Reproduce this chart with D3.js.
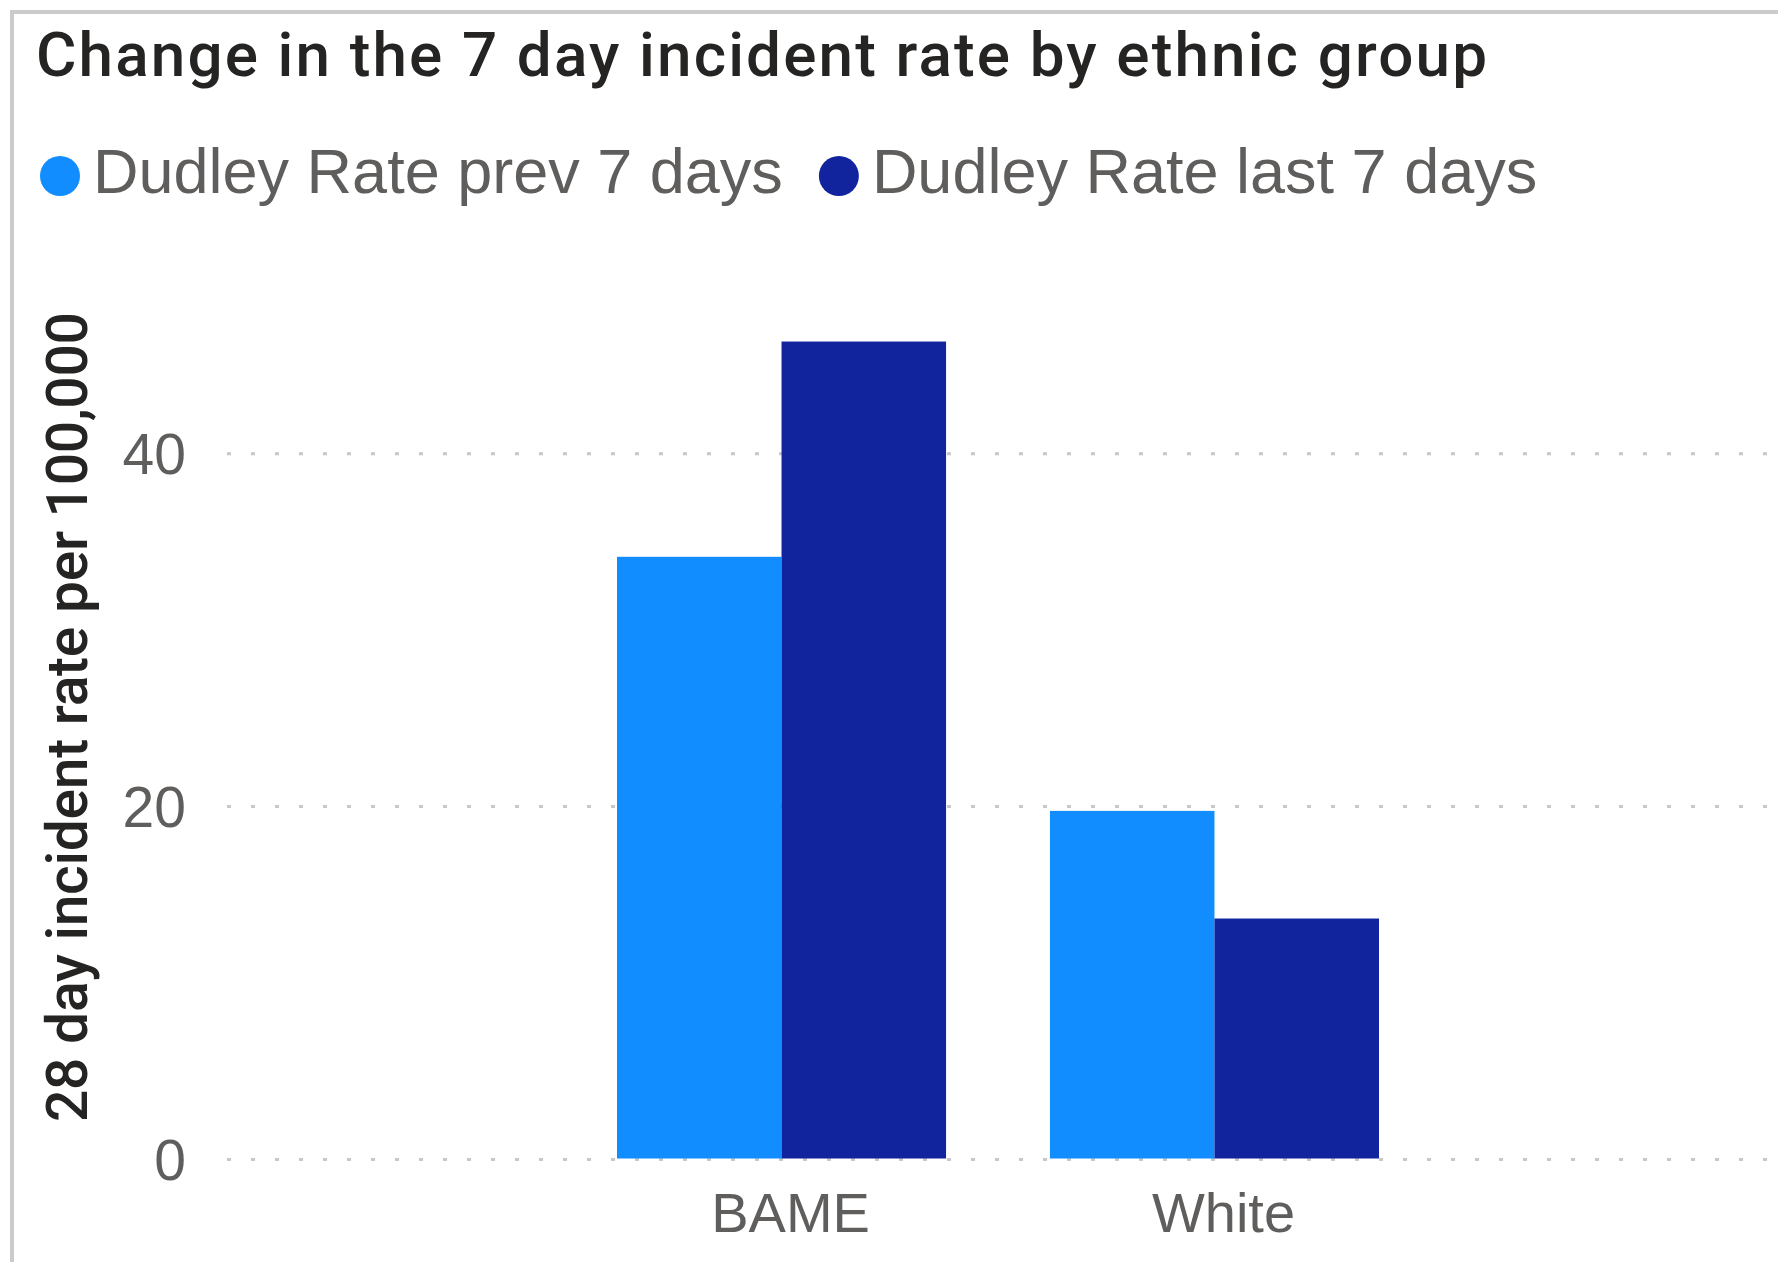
<!DOCTYPE html>
<html>
<head>
<meta charset="utf-8">
<script src="https://cdn.jsdelivr.net/npm/d3@7"></script>
<style>
  html, body { margin: 0; padding: 0; background: #fff; }
  svg { display: block; }
</style>
</head>
<body>
<svg id="chart" width="1778" height="1262"></svg>
<script>
// Ethnic groups on the x axis
const categories = ["BAME", "White"];
// Series names (legend order)
const seriesNames = ["Dudley Rate prev 7 days", "Dudley Rate last 7 days"];
// Rates per 100,000 for each series, in category order
const prevRates = [34.1, 19.7];
const lastRates = [46.3, 13.6];
// Y axis tick values
const yTicks = [0, 20, 40];

const colors = ["#118DFF", "#12239E"];
const W = 1778, H = 1262;
const svg = d3.select("#chart");

const rows = categories.map((c, i) => ({
  category: c,
  values: [
    { series: seriesNames[0], value: prevRates[i] },
    { series: seriesNames[1], value: lastRates[i] }
  ]
}));

// Visual frame
svg.append("path")
  .attr("d", `M12,${H + 5} L12,12 L${W + 5},12`)
  .attr("fill", "none")
  .attr("stroke", "#CBCBCB")
  .attr("stroke-width", 4);

// Title
svg.append("text")
  .attr("x", 36).attr("y", 76)
  .attr("font-family", "Roboto, 'DejaVu Sans', sans-serif")
  .attr("font-size", 62)
  .attr("font-weight", 500)
  .attr("fill", "#252423")
  .attr("textLength", 1451)
  .attr("lengthAdjust", "spacing")
  .text("Change in the 7 day incident rate by ethnic group");

// Legend
let lx = 40;
seriesNames.forEach((name, i) => {
  const g = svg.append("g");
  g.append("circle").attr("cx", lx + 20).attr("cy", 176).attr("r", 20).attr("fill", colors[i]);
  const t = g.append("text")
    .attr("x", lx + 53).attr("y", 193)
    .attr("font-family", "'Liberation Sans', Arial, sans-serif")
    .attr("font-size", 63)
    .attr("fill", "#605E5C")
    .text(name);
  lx = lx + 53 + t.node().getComputedTextLength() + 36;
});

// Scales
const plotLeft = 227, plotRight = W;
const y = d3.scaleLinear().domain([0, 50]).range([1158.5, 276.25]);
const x0 = d3.scaleBand().domain(categories).range([617, 1379]).paddingInner(0.24).paddingOuter(0);
const x1 = d3.scaleBand().domain(seriesNames).range([0, x0.bandwidth()]).padding(0);

// Dotted gridlines
svg.append("g")
  .selectAll("line")
  .data(yTicks)
  .join("line")
  .attr("x1", plotLeft).attr("x2", plotRight)
  .attr("y1", d => y(d) + 1).attr("y2", d => y(d) + 1)
  .attr("stroke", "#C8C8C8")
  .attr("stroke-width", 3)
  .attr("stroke-dasharray", "4 20");

// Y axis tick labels
const yAxis = d3.axisLeft(y).tickValues(yTicks).tickSize(0).tickPadding(0).tickFormat(d3.format("d"));
const yg = svg.append("g").attr("transform", "translate(186,0)").call(yAxis);
yg.select(".domain").remove();
yg.selectAll("text")
  .attr("font-family", "'Liberation Sans', Arial, sans-serif")
  .attr("font-size", 57)
  .attr("fill", "#605E5C")
  .attr("dy", "0.36em");

// Y axis title
svg.append("text")
  .attr("transform", "translate(87,717) rotate(-90)")
  .attr("text-anchor", "middle")
  .attr("font-family", "Roboto, 'DejaVu Sans', sans-serif")
  .attr("font-size", 57)
  .attr("font-weight", 500)
  .attr("fill", "#252423")
  .attr("textLength", 810)
  .attr("lengthAdjust", "spacing")
  .text("28 day incident rate per 100,000");

// Bars
svg.append("g")
  .selectAll("g")
  .data(rows)
  .join("g")
  .attr("transform", d => `translate(${x0(d.category)},0)`)
  .selectAll("rect")
  .data(d => d.values)
  .join("rect")
  .attr("x", d => x1(d.series))
  .attr("width", x1.bandwidth())
  .attr("y", d => y(d.value))
  .attr("height", d => y(0) - y(d.value))
  .attr("fill", (d, i) => colors[i]);

// X axis category labels
const xAxis = d3.axisBottom(x0).tickSize(0).tickPadding(0);
const xg = svg.append("g").attr("transform", "translate(9,1232)").call(xAxis);
xg.select(".domain").remove();
xg.selectAll("text")
  .attr("font-family", "'Liberation Sans', Arial, sans-serif")
  .attr("font-size", 56)
  .attr("fill", "#605E5C")
  .attr("dy", 0);
</script>
</body>
</html>
